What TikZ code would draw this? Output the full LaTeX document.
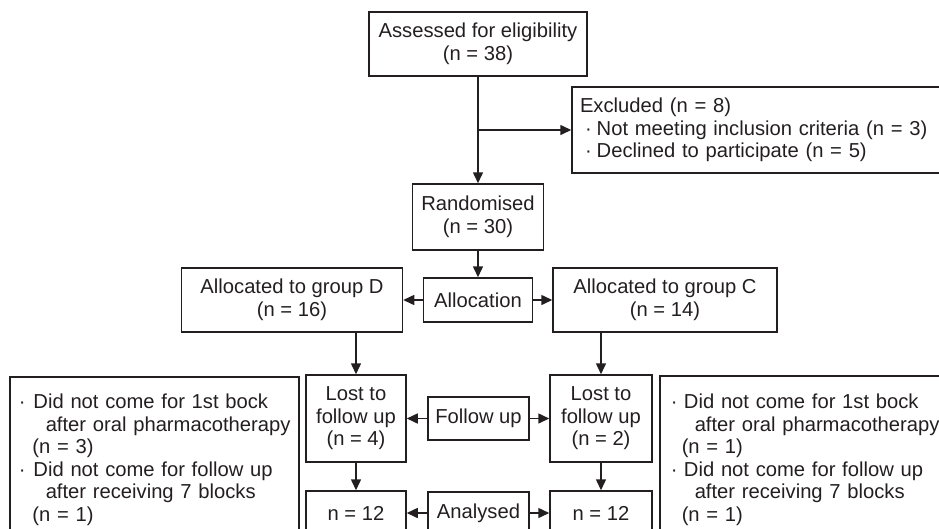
\documentclass[tikz,border=0pt]{standalone}
\usepackage{fontspec}
\setmainfont{Liberation Sans}
\usetikzlibrary{arrows.meta}
\definecolor{ink}{RGB}{35,31,32}
\newcommand{\fsz}{\fontsize{20.2}{22.6}\selectfont}
\begin{document}
\begin{tikzpicture}[x=1pt,y=-1pt,
  box/.style={draw=ink, line width=1.5pt, inner sep=0pt, align=center, font=\fsz, text=ink},
  sidebox/.style={box, align=left, anchor=north west, inner ysep=0pt},
  arr/.style={draw=ink, line width=1.5pt, -{Triangle[length=11pt,width=10pt]}}]
\useasboundingbox (0,0) rectangle (939,528);
\clip (0,0) rectangle (939,528);
% top part
\node[box, minimum width=218pt, minimum height=64pt] (assess) at (478,44) {Assessed for eligibility\\(n = 38)};
\node[box, align=left, minimum width=388pt, minimum height=86pt, text width=372pt] (excl) at (766,130)
  {\mbox{Excluded (n = 8)}\\
   \mbox{\hspace*{5pt}·\hspace*{5pt}Not meeting inclusion criteria (n = 3)}\\
   \mbox{\hspace*{5pt}·\hspace*{5pt}Declined to participate (n = 5)}};
\node[box, minimum width=131pt, minimum height=66pt] (rand) at (478,217) {Randomised\\(n = 30)};
% allocation row
\node[box, minimum width=109pt, minimum height=44pt] (alloc) at (478,300) {Allocation};
\node[box, minimum width=221pt, minimum height=64pt] (allocD) at (292,300) {Allocated to group D\\(n = 16)};
\node[box, minimum width=224pt, minimum height=64pt] (allocC) at (665,300) {Allocated to group C\\(n = 14)};
% follow up row
\node[box, minimum width=101pt, minimum height=43pt] (follow) at (478.5,418.5) {Follow up};
\node[box, minimum width=100pt, minimum height=87pt] (lostD) at (356,418.5) {Lost to\\follow up\\(n = 4)};
\node[box, minimum width=102pt, minimum height=87pt] (lostC) at (601,418.5) {Lost to\\follow up\\(n = 2)};
% analysed row
\node[box, minimum width=101pt, minimum height=42pt] (analysed) at (478.5,513) {Analysed};
\node[box, minimum width=100pt, minimum height=44pt] (nD) at (356,513) {n = 12};
\node[box, minimum width=102pt, minimum height=44pt] (nC) at (601,513) {n = 12};
% side boxes
\node[sidebox, inner xsep=9pt, text width=271pt, minimum height=166pt] (sideD) at (9,376)
  {\mbox{·\hspace*{8pt}Did not come for 1st bock}\\
   \mbox{\hspace*{27pt}after oral pharmacotherapy}\\
   \mbox{\hspace*{13.6pt}(n = 3)}\\
   \mbox{·\hspace*{8pt}Did not come for follow up}\\
   \mbox{\hspace*{27pt}after receiving 7 blocks}\\
   \mbox{\hspace*{13.6pt}(n = 1)}};
\node[sidebox, inner xsep=11pt, text width=272pt, minimum height=168pt] (sideC) at (659,375)
  {\mbox{·\hspace*{6.5pt}Did not come for 1st bock}\\
   \mbox{\hspace*{24pt}after oral pharmacotherapy}\\
   \mbox{\hspace*{11pt}(n = 1)}\\
   \mbox{·\hspace*{6.5pt}Did not come for follow up}\\
   \mbox{\hspace*{24pt}after receiving 7 blocks}\\
   \mbox{\hspace*{11pt}(n = 1)}};
% connectors
\draw[arr] (assess.south) -- (rand.north);
\draw[arr] (assess.south |- excl.west) -- (excl.west);
\draw[arr] (rand.south) -- (alloc.north);
\draw[arr] (alloc.west) -- (allocD.east);
\draw[arr] (alloc.east) -- (allocC.west);
\draw[arr] (lostD.north |- allocD.south) -- (lostD.north);
\draw[arr] (lostC.north |- allocC.south) -- (lostC.north);
\draw[arr] (follow.west) -- (lostD.east);
\draw[arr] (follow.east) -- (lostC.west);
\draw[arr] (lostD.south) -- (nD.north);
\draw[arr] (lostC.south) -- (nC.north);
\draw[arr] (analysed.west) -- (nD.east);
\draw[arr] (analysed.east) -- (nC.west);
\end{tikzpicture}
\end{document}
